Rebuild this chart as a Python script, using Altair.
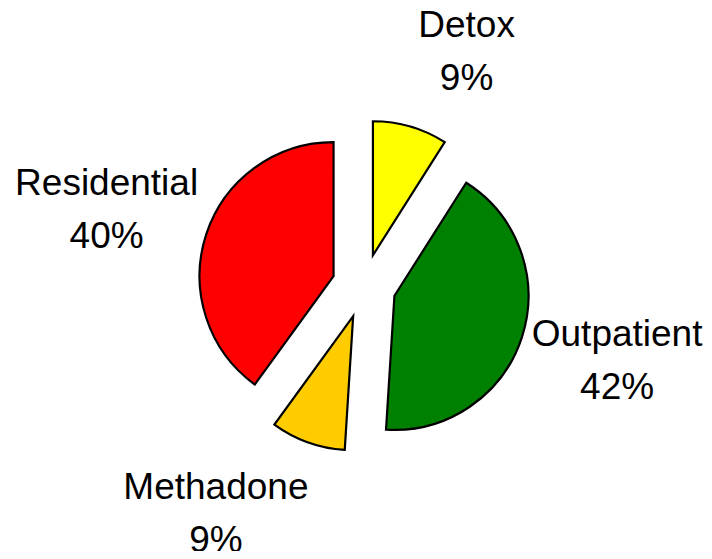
import altair as alt
import pandas as pd

categories = ["Detox", "Outpatient", "Methadone", "Residential"]
shares = [9, 42, 9, 40]
colors = ["#FFFF00", "#008000", "#FFCC00", "#FF0000"]

df = pd.DataFrame({"category": categories, "value": shares, "order": list(range(len(categories)))})

# layout constants (pixels)
CX, CY = 356, 278      # pie centre
R = 134                # pie radius
EXPLODE = 32           # explode distance
FS = 37                # label font size
LH = 53                # label line height
LDX = 3                # label ring centre shift
LR, LK = 173, 2.5      # label horizontal ring / gap
LA = 243               # label vertical reach

# approximate half text width (Arial-like metrics)
half_w = (f"{FS}*(0.556*length(datum.category) "
          f"- 0.31*length(replace(datum.category, regexp('[^iltfj]', 'g'), '')) + 0.17)/2")

base = (
    alt.Chart(df)
    .transform_joinaggregate(total="sum(value)")
    .transform_window(cum="sum(value)", sort=[alt.SortField("order")], frame=[None, 0])
    .transform_calculate(
        start="2*PI*(datum.cum - datum.value)/datum.total",
        end="2*PI*datum.cum/datum.total",
    )
    .transform_calculate(mid="(datum.start + datum.end)/2", hw=half_w)
    .transform_calculate(
        cx=f"{CX} + {EXPLODE}*sin(datum.mid)",
        cy=f"{CY} - {EXPLODE}*cos(datum.mid)",
        lx=f"{CX + LDX} + {LR}*sin(datum.mid) + (sin(datum.mid) > 0 ? 1 : -1)*({LK} + datum.hw)",
        ly=f"{CY} - {LA}*cos(datum.mid) - {LH / 2}",
        label="datum.category + '\\n' + datum.value + '%'",
    )
)

color_scale = alt.Scale(domain=categories, range=colors)

arcs = base.mark_arc(stroke="black", strokeWidth=2.2, radius=R).encode(
    x=alt.X("cx:Q", scale=None),
    y=alt.Y("cy:Q", scale=None),
    theta=alt.Theta("start:Q", scale=None),
    theta2=alt.Theta2("end:Q"),
    color=alt.Color("category:N", scale=color_scale, legend=None),
)

labels = base.mark_text(font="Liberation Sans", fontSize=FS, lineBreak="\n", lineHeight=LH,
                        align="center", baseline="middle", color="black").encode(
    x=alt.X("lx:Q", scale=None),
    y=alt.Y("ly:Q", scale=None),
    text="label:N",
)

chart = (
    alt.layer(arcs, labels)
    .properties(width=696, height=543, padding=0, autosize="none")
    .configure_view(stroke=None)
)

chart.save("out.html", embed_options={"renderer": "svg", "actions": False})
